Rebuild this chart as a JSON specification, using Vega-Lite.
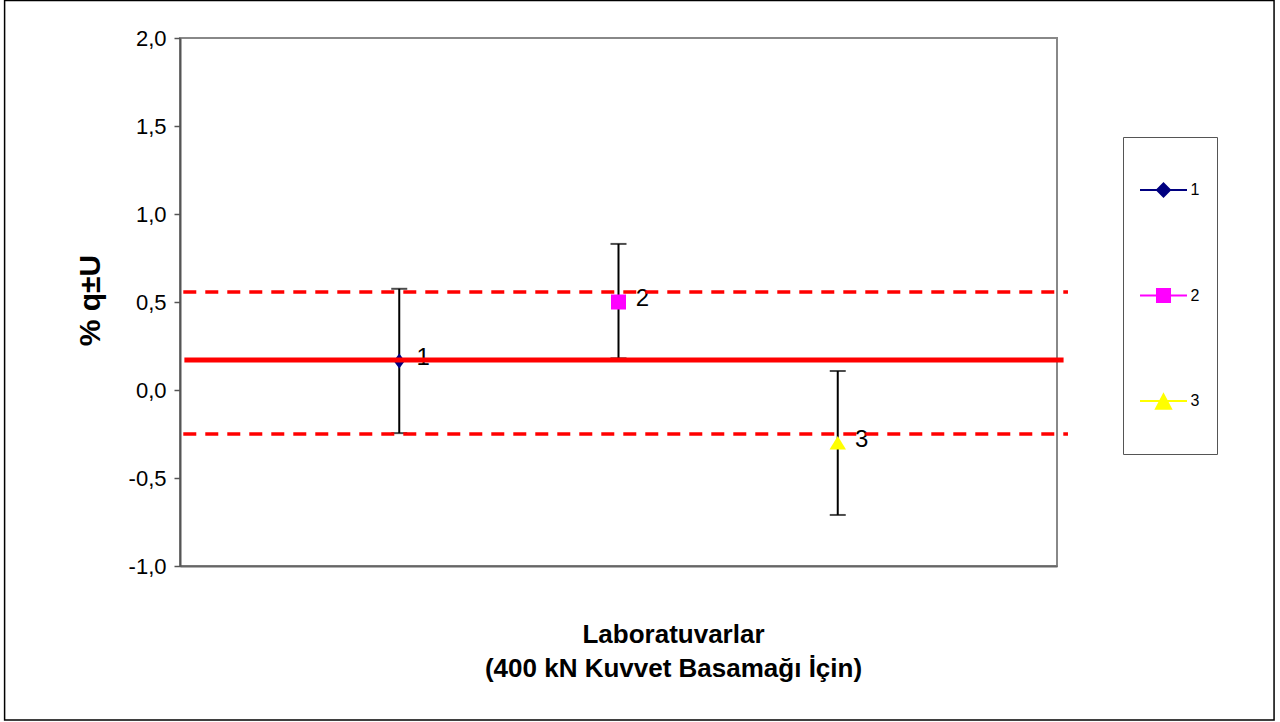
{
  "$schema": "https://vega.github.io/schema/vega-lite/v6.json",
  "width": 877,
  "height": 528,
  "autosize": {"type": "none"},
  "padding": {"left": 180, "top": 38, "right": 223, "bottom": 156},
  "background": "white",
  "config": {
    "font": "Liberation Sans",
    "view": {"stroke": "#888888", "strokeWidth": 2}
  },
  "datasets": {
    "labs": [
      {"lab": "1", "x": 1, "q": 0.165, "lo": -0.245, "hi": 0.575},
      {"lab": "2", "x": 2, "q": 0.5, "lo": 0.18, "hi": 0.83},
      {"lab": "3", "x": 3, "q": -0.3, "lo": -0.71, "hi": 0.108}
    ],
    "refs": [
      {"ref": "mean", "v": 0.17},
      {"ref": "upper", "v": 0.557},
      {"ref": "lower", "v": -0.25}
    ]
  },
  "encoding": {
    "x": {
      "type": "quantitative",
      "scale": {"domain": [0, 4], "nice": false, "zero": false},
      "axis": {
        "title": ["Laboratuvarlar", "(400 kN Kuvvet Basamağı İçin)"],
        "titleFont": "Liberation Sans",
        "titleFontSize": 26,
        "titleFontWeight": "bold",
        "titleColor": "black",
        "titleLineHeight": 34,
        "titleX": 493,
        "titleY": 76,
        "titleAlign": "center",
        "titleBaseline": "alphabetic",
        "labels": false,
        "ticks": false,
        "grid": false,
        "domain": true,
        "domainColor": "#666666",
        "domainWidth": 2
      }
    },
    "y": {
      "type": "quantitative",
      "scale": {"domain": [-1, 2], "nice": false, "zero": false},
      "axis": {
        "title": "% q±U",
        "titleFont": "Liberation Sans",
        "titleFontSize": 30,
        "titleFontWeight": "bold",
        "titleColor": "black",
        "titleAngle": 270,
        "titleX": -90,
        "titleY": 262,
        "titleAlign": "center",
        "titleBaseline": "middle",
        "values": [-1, -0.5, 0, 0.5, 1, 1.5, 2],
        "labelExpr": "(datum.value < 0 ? '-' : '') + replace(format(abs(datum.value), '.1f'), '.', ',')",
        "labelFont": "Liberation Sans",
        "labelFontSize": 22,
        "labelColor": "black",
        "labelPadding": 8,
        "tickSize": 6,
        "tickColor": "#555555",
        "tickWidth": 1.5,
        "domainColor": "#555555",
        "domainWidth": 2,
        "grid": false
      }
    }
  },
  "layer": [
    {
      "data": {"values": [{}]},
      "mark": {"type": "rect", "fillOpacity": 0, "stroke": "black", "strokeWidth": 1.5, "clip": false},
      "encoding": {
        "x": {"datum": -0.80, "type": "quantitative"},
        "x2": {"datum": 4.99},
        "y": {"datum": 2.213, "type": "quantitative"},
        "y2": {"datum": -1.875}
      }
    },
    {
      "data": {"name": "labs"},
      "mark": {"type": "rule", "color": "black", "strokeWidth": 2},
      "encoding": {
        "x": {"field": "x", "type": "quantitative"},
        "y": {"field": "lo", "type": "quantitative"},
        "y2": {"field": "hi"}
      }
    },
    {
      "data": {"name": "labs"},
      "mark": {"type": "tick", "orient": "horizontal", "color": "black", "size": 16, "thickness": 2},
      "encoding": {
        "x": {"field": "x", "type": "quantitative"},
        "y": {"field": "hi", "type": "quantitative"}
      }
    },
    {
      "data": {"name": "labs"},
      "mark": {"type": "tick", "orient": "horizontal", "color": "black", "size": 16, "thickness": 2},
      "encoding": {
        "x": {"field": "x", "type": "quantitative"},
        "y": {"field": "lo", "type": "quantitative"}
      }
    },
    {
      "data": {"name": "labs"},
      "transform": [{"filter": "datum.lab == '1'"}],
      "mark": {"type": "point", "filled": true, "opacity": 1, "size": 225, "color": "#000080", "shape": "M0,-1L0.75,0L0,1L-0.75,0Z"},
      "encoding": {
        "x": {"field": "x", "type": "quantitative"},
        "y": {"field": "q", "type": "quantitative"}
      }
    },
    {
      "data": {"name": "labs"},
      "transform": [{"filter": "datum.lab == '2'"}],
      "mark": {"type": "point", "filled": true, "opacity": 1, "size": 225, "color": "#FF00FF", "shape": "M-1,-1L1,-1L1,1L-1,1Z"},
      "encoding": {
        "x": {"field": "x", "type": "quantitative"},
        "y": {"field": "q", "type": "quantitative"}
      }
    },
    {
      "data": {"name": "labs"},
      "transform": [{"filter": "datum.lab == '3'"}],
      "mark": {"type": "point", "filled": true, "opacity": 1, "size": 225, "color": "#FFFF00", "shape": "M0,-0.9L1.1,0.9L-1.1,0.9Z"},
      "encoding": {
        "x": {"field": "x", "type": "quantitative"},
        "y": {"field": "q", "type": "quantitative"}
      }
    },
    {
      "data": {"name": "labs"},
      "transform": [{"filter": "datum.x > 100"}],
      "mark": {"type": "point", "filled": false, "opacity": 1, "strokeWidth": 2},
      "encoding": {
        "x": {"field": "x", "type": "quantitative"},
        "y": {"field": "q", "type": "quantitative"},
        "fill": {
          "field": "lab",
          "type": "nominal",
          "scale": {"domain": ["1", "2", "3"], "range": ["#000080", "#FF00FF", "#FFFF00"]},
          "legend": {
            "title": null,
            "orient": "none",
            "legendX": 943,
            "legendY": 99,
            "padding": 17,
            "strokeColor": "#555555",
            "fillColor": "white",
            "symbolSize": 4900,
            "symbolStrokeWidth": 2,
            "symbolOpacity": 1,
            "symbolOffset": -12.5,
            "labelOffset": -9,
            "rowPadding": 30.5,
            "labelFont": "Liberation Sans",
            "labelFontSize": 16,
            "labelColor": "black"
          }
        },
        "stroke": {
          "field": "lab",
          "type": "nominal",
          "scale": {"domain": ["1", "2", "3"], "range": ["#000080", "#FF00FF", "#FFFF00"]}
        },
        "shape": {
          "field": "lab",
          "type": "nominal",
          "scale": {"domain": ["1", "2", "3"], "range": ["M0,-1M0,0.9M-0.671,0L0.671,0M0,-0.186L0.186,0L0,0.186L-0.186,0Z", "M0,-1M0,0.9M-0.671,0L0.671,0M-0.186,-0.186L0.186,-0.186L0.186,0.186L-0.186,0.186Z", "M0,-1M0,0.9M-0.671,0L0.671,0M0,-0.19L0.214,0.22L-0.214,0.22Z"]}
        }
      }
    },
    {
      "data": {"name": "labs"},
      "mark": {"type": "text", "dx": 24, "dy": -3, "align": "center", "baseline": "middle", "fontSize": 24, "font": "Liberation Sans", "color": "black"},
      "encoding": {
        "x": {"field": "x", "type": "quantitative"},
        "y": {"field": "q", "type": "quantitative"},
        "text": {"field": "lab"}
      }
    },
    {
      "data": {"name": "refs"},
      "transform": [{"filter": "datum.ref == 'mean'"}],
      "mark": {"type": "rule", "color": "#FF0000", "strokeWidth": 5, "clip": false},
      "encoding": {
        "y": {"field": "v", "type": "quantitative"},
        "x": {"datum": 0.02, "type": "quantitative"},
        "x2": {"datum": 4.03}
      }
    },
    {
      "data": {"name": "refs"},
      "transform": [{"filter": "datum.ref != 'mean'"}],
      "mark": {"type": "rule", "color": "#FF0000", "strokeWidth": 3.5, "strokeDash": [13, 9], "clip": false},
      "encoding": {
        "y": {"field": "v", "type": "quantitative"},
        "x": {"datum": 0.015, "type": "quantitative"},
        "x2": {"datum": 4.05}
      }
    }
  ]
}
